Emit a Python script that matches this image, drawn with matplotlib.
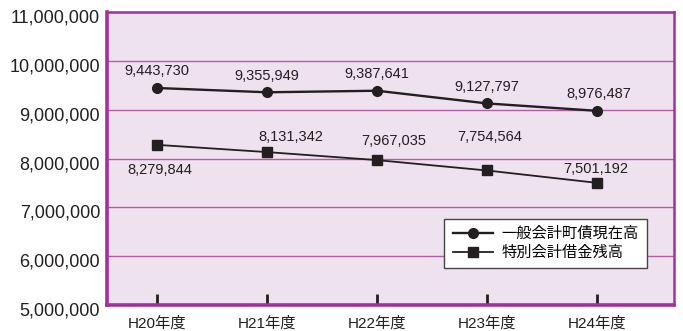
import matplotlib.pyplot as plt
from matplotlib.transforms import ScaledTranslation

plt.rcParams['font.family'] = ['Liberation Sans', 'Noto Sans CJK JP']

# 年度ごとの残高
years = ['H20年度', 'H21年度', 'H22年度', 'H23年度', 'H24年度']
general_debt = [9443730, 9355949, 9387641, 9127797, 8976487]
special_debt = [8279844, 8131342, 7967035, 7754564, 7501192]

# ラベルの位置調整 (points)
general_offsets = [(0, 7), (0, 7), (0, 7), (0, 7), (1, 7)]
special_offsets = [(2, -13), (17, 6), (12, 9), (2, 19), (-1, 5)]

ink = '#231f20'
purple = '#a3319a'
grid_purple = '#b65aa8'

fig = plt.figure(figsize=(6.83, 3.31), dpi=100)
ax = fig.add_axes([107 / 683, 1 - 305 / 331, 567 / 683, 293 / 331])
ax.set_facecolor('#efe2ef')

x = range(len(years))
ax.plot(x, general_debt, color=ink, lw=1.7, marker='o', ms=7,
        label='一般会計町債現在高', zorder=3)
ax.plot(x, special_debt, color=ink, lw=1.3, marker='s', ms=7,
        label='特別会計借金残高', zorder=3)

for i, v in enumerate(general_debt):
    ax.annotate(f'{v:,}', (i, v), xytext=general_offsets[i], textcoords='offset points',
                ha='center', va='bottom', fontsize=10.5, color=ink)
for i, v in enumerate(special_debt):
    dy = special_offsets[i][1]
    ax.annotate(f'{v:,}', (i, v), xytext=special_offsets[i], textcoords='offset points',
                ha='center', va='bottom' if dy > 0 else 'top', fontsize=10.5, color=ink)

ax.set_xlim(-0.4545, 4.70)
ax.set_ylim(5000000, 11000000)
ax.set_yticks(range(5000000, 11000001, 1000000))
ax.set_yticklabels([f'{t:,}' for t in range(5000000, 11000001, 1000000)])
ax.set_xticks(list(x))
ax.set_xticklabels(years)

ax.yaxis.grid(True, color=grid_purple, lw=1.0)
ax.set_axisbelow(True)

ax.tick_params(axis='y', length=0, pad=5, labelsize=13, labelcolor=ink)
ax.tick_params(axis='x', direction='in', length=8, width=2, color=ink,
               pad=8, labelsize=11, labelcolor=ink)
for lab in ax.get_yticklabels():
    lab.set_transform(lab.get_transform() + ScaledTranslation(0, -4 / 100, fig.dpi_scale_trans))

for side in ['left', 'bottom']:
    ax.spines[side].set_color(purple)
    ax.spines[side].set_linewidth(2.6)
for side in ['top', 'right']:
    ax.spines[side].set_color(purple)
    ax.spines[side].set_linewidth(1.8)

leg = ax.legend(loc='lower right', bbox_to_anchor=(0.9665, 0.099), numpoints=1,
                handlelength=2.6, fontsize=11, fancybox=False, framealpha=1,
                edgecolor='#444444', borderpad=0.55, labelspacing=0.3, handletextpad=0.6)
leg.get_frame().set_linewidth(1.0)

fig.savefig('out.png', dpi=100)
